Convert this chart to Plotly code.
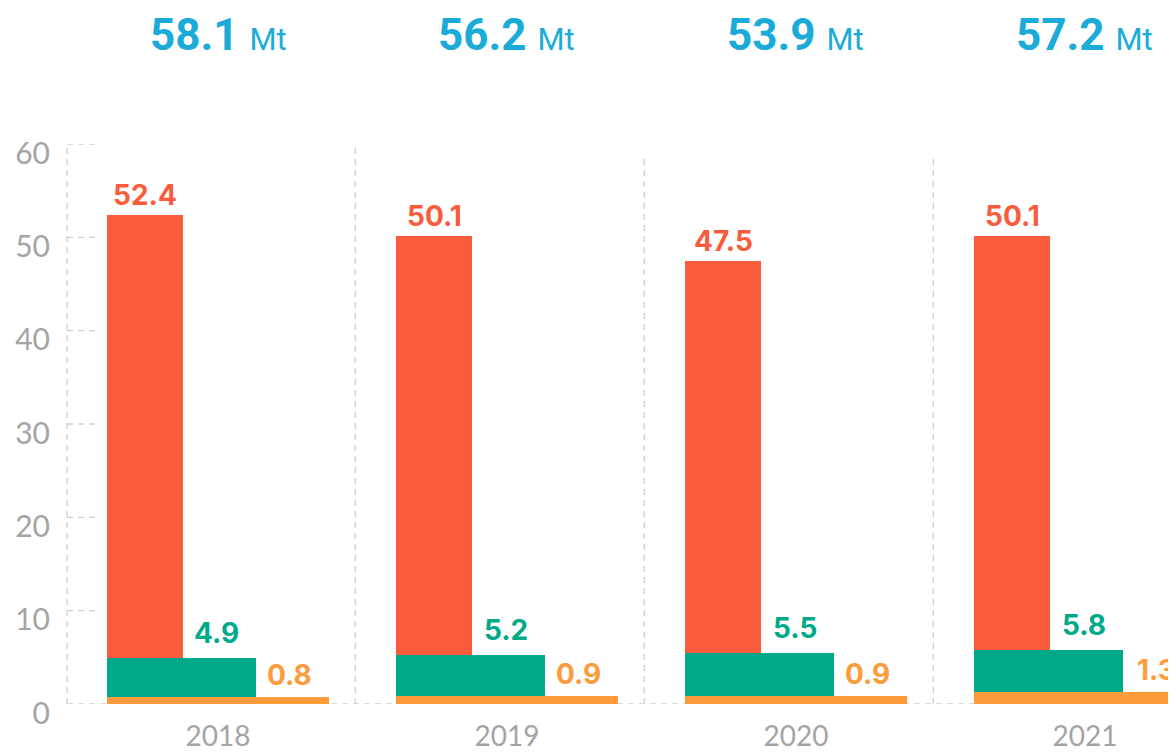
import plotly.graph_objects as go

# dati (Mt)
anni = [2018, 2019, 2020, 2021]
serie_rossa = [52.4, 50.1, 47.5, 50.1]
serie_verde = [4.9, 5.2, 5.5, 5.8]
serie_arancio = [0.8, 0.9, 0.9, 1.3]
totali = [58.1, 56.2, 53.9, 57.2]
y_ticks = [0, 10, 20, 30, 40, 50, 60]

ROSSO = '#fa5b3d'
VERDE = '#00a98a'
ARANCIO = '#fd9a3a'
BLU = '#1aabd8'
GRIGIO = '#a4a4a4'
LINEA = '#cfcfcf'

# barre sovrapposte, tutte allineate a sinistra
offset = -0.384
larghezze = [0.263, 0.516, 0.768]

fig = go.Figure()
for valori, colore, w, nome in [(serie_rossa, ROSSO, larghezze[0], 'rosso'),
                                (serie_verde, VERDE, larghezze[1], 'verde'),
                                (serie_arancio, ARANCIO, larghezze[2], 'arancio')]:
    fig.add_trace(go.Bar(x=anni, y=valori, width=w, offset=offset, name=nome,
                         marker=dict(color=colore, line=dict(width=0)), hoverinfo='x+y'))

# etichette dei valori sopra ogni barra
font_lbl = dict(family='Inter, Roboto, sans-serif', size=28, weight=700)
for i, a in enumerate(anni):
    xs = [a + offset + larghezze[0] / 2,
          a + offset + (larghezze[0] + larghezze[1]) / 2 - 0.01,
          a + offset + (larghezze[1] + larghezze[2]) / 2 - 0.01]
    vals = [serie_rossa[i], serie_verde[i], serie_arancio[i]]
    cols = [ROSSO, VERDE, ARANCIO]
    shifts = [1, 6, 3]
    for x, v, c, s in zip(xs, vals, cols, shifts):
        fig.add_annotation(x=x, y=v, text=f'{v:.1f}', showarrow=False, yanchor='bottom',
                           yshift=s, font=dict(color=c, **font_lbl))
    # totale in alto (riquadro attaccato al bordo superiore)
    fig.add_annotation(x=a, y=1.2429, yref='paper', yanchor='top', showarrow=False, borderpad=0,
                       text=f"<b>{totali[i]:.1f}</b> <span style='font-size:31px'>Mt</span>",
                       font=dict(family='Roboto, sans-serif', size=44, color=BLU))

# linee tratteggiate: asse sinistro, base, separatori, tacche
tratto = dict(color=LINEA, width=1.3, dash='6px,5px')
fig.add_shape(type='line', xref='paper', x0=0, x1=0, y0=0, y1=59.6, line=tratto, layer='below')
fig.add_shape(type='line', xref='paper', x0=0, x1=1, y0=0, y1=0, line=tratto, layer='below')
for a, top in zip(anni[:-1], [59.6, 58.8, 58.8]):
    fig.add_shape(type='line', x0=a + 0.475, x1=a + 0.475, y0=0, y1=top, line=tratto, layer='below')
for t in y_ticks[1:]:
    fig.add_shape(type='line', xref='paper', x0=0, x1=0.026, y0=t, y1=t, line=tratto, layer='below')

# la pagina ha 8px di margine nel body: figura ridotta di conseguenza
fig.update_layout(
    width=1168, height=745,
    margin=dict(l=59, r=0, t=136, b=49),
    barmode='overlay', bargap=0,
    showlegend=False,
    plot_bgcolor='white', paper_bgcolor='white',
    font=dict(family='Lato, sans-serif', color=GRIGIO),
)
fig.update_xaxes(range=[2017.4775, 2021.315], tickvals=anni, ticktext=[str(a) for a in anni],
                 showgrid=False, zeroline=False, showline=False, ticks='', automargin=False,
                 ticklabelstandoff=13,
                 tickfont=dict(family='Lato, sans-serif', size=28, color=GRIGIO))
fig.update_yaxes(range=[0, 60], tickvals=y_ticks, showgrid=False, zeroline=False, showline=False,
                 ticks='', automargin=False, ticklabelstandoff=16, ticklabelshift=9,
                 tickfont=dict(family='Lato, sans-serif', size=30, color=GRIGIO))

fig.write_html('out.html')
